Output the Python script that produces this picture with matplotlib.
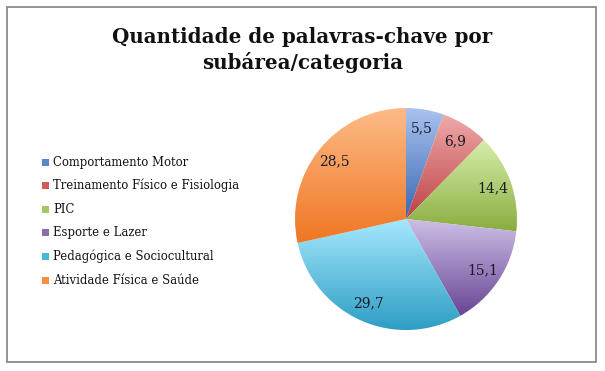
import numpy as np
import matplotlib
matplotlib.use("Agg")
import matplotlib.pyplot as plt
from matplotlib.colors import LinearSegmentedColormap
from matplotlib.patches import Rectangle

categories = ["Comportamento Motor", "Treinamento Físico e Fisiologia", "PIC",
              "Esporte e Lazer", "Pedagógica e Sociocultural", "Atividade Física e Saúde"]
values = [5.5, 6.9, 14.4, 15.1, 29.7, 28.5]
light_colors = ["#a9c2ef", "#f0aaa9", "#d8eeab", "#cdbfe6", "#a5e8fd", "#fdbb88"]
dark_colors = ["#3a68b2", "#bd4246", "#89ad40", "#674594", "#2e9ec4", "#ef7622"]
mid_colors = ["#5b86cc", "#d35c5b", "#a5c866", "#8a6cb2", "#47b6d9", "#f58e43"]
title = "Quantidade de palavras-chave por\nsubárea/categoria"

serif = ["DejaVu Serif"]

fig = plt.figure(figsize=(6.05, 3.71), dpi=100)
fig.patch.set_facecolor("white")

# chart border
fig.add_artist(Rectangle((6.5 / 605, 1 - 362 / 371), 589 / 605, 355.5 / 371,
                         transform=fig.transFigure, fill=False,
                         edgecolor="#8a8a8a", linewidth=1.3))

fig.text(0.5, 1 - 50 / 371, title, ha="center", va="center", fontsize=14.3,
         fontweight="bold", family=serif, linespacing=1.3, color="#111111")

ax = fig.add_axes([295 / 605, 1 - 330 / 371, 222 / 605, 222 / 371])
wedges, texts = ax.pie(values, startangle=90, counterclock=False,
                       labels=[f"{v:.1f}".replace(".", ",") for v in values],
                       labeldistance=0.83,
                       textprops=dict(family=serif, fontsize=10, color="#1a1a2a"),
                       wedgeprops=dict(linewidth=0))
for t in texts:
    t.set_ha("center")
    t.set_va("center")

grad = np.linspace(0, 1, 256).reshape(-1, 1)
for w, lc, dc in zip(wedges, light_colors, dark_colors):
    w.set_facecolor("none")
    th = np.radians(np.linspace(w.theta1, w.theta2, 200))
    xs = np.concatenate([[0], np.cos(th)])
    ys = np.concatenate([[0], np.sin(th)])
    cmap = LinearSegmentedColormap.from_list("g", [lc, dc])
    im = ax.imshow(grad, cmap=cmap, extent=[xs.min(), xs.max(), ys.min(), ys.max()],
                   origin="upper", aspect="auto", zorder=0.5, interpolation="bilinear")
    im.set_clip_path(w)
ax.set_xlim(-1, 1)
ax.set_ylim(-1, 1)
ax.set_aspect("equal")
ax.axis("off")

# legend
y0 = 162
for i, (cat, col) in enumerate(zip(categories, mid_colors)):
    y = 1 - (y0 + i * 23.6) / 371
    fig.add_artist(Rectangle((42 / 605, y - 3.5 / 371), 7 / 605, 7 / 371,
                             transform=fig.transFigure, facecolor=col, edgecolor="none"))
    fig.text(53 / 605, y, cat, ha="left", va="center", fontsize=8.4,
             family=serif, color="#111111")

fig.savefig("out.png", dpi=100, facecolor="white")
